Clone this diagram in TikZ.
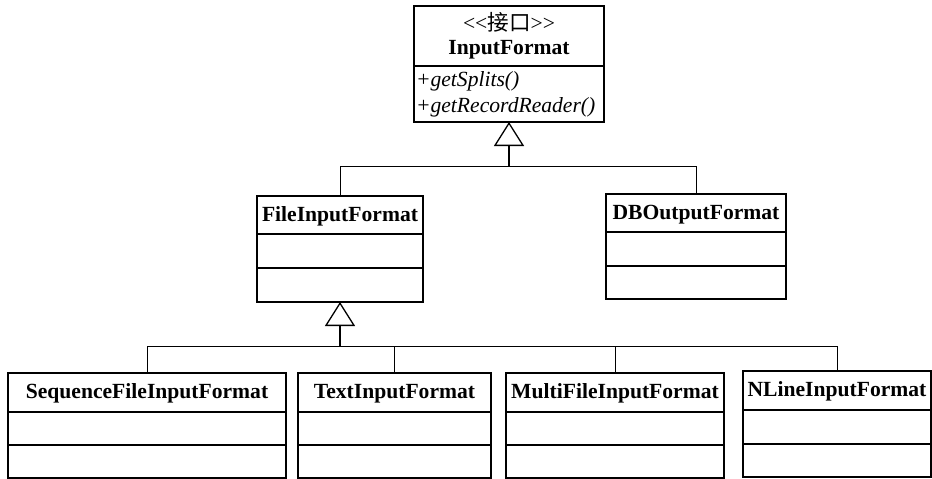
\documentclass[tikz,border=0pt]{standalone}
\usepackage{fontspec}
\setmainfont{Liberation Serif}
\newfontfamily\cjk{Noto Sans CJK SC}
\usepackage{tikz}
\usetikzlibrary{positioning}
\usetikzlibrary{shapes,arrows.meta}

\newcommand{\umlfont}{\fontsize{21.6pt}{24pt}\selectfont}

\tikzset{
  classname/.style={draw, line width=1.2pt, inner sep=0pt, outer sep=0pt,
    anchor=north west, minimum height=39pt, font=\umlfont\bfseries,
    text height=16pt, text depth=4pt},
  classpart/.style={draw, line width=1.2pt, inner sep=0pt, outer sep=0pt,
    minimum height=33pt},
  inherit/.style={line width=1.3pt, -{Triangle[open, width=30pt, length=24pt]}},
  link/.style={line width=0.9pt}
}

\begin{document}
\begin{tikzpicture}[x=1pt, y=-1pt]
  \useasboundingbox (0,0) rectangle (932,479);

  % interface
  \node[draw, line width=1.2pt, inner sep=0pt, outer sep=0pt, anchor=north west,
    minimum width=190pt, minimum height=60pt, align=center, font=\umlfont]
    (if) at (414,6) {<\kern0pt<{\cjk 接口}>\kern0pt>\\\textbf{InputFormat}};
  \node[classpart, below=0pt of if, minimum width=190pt, minimum height=56pt,
    text width=186pt, inner xsep=2pt, align=left,
    font=\fontsize{21.6pt}{26pt}\selectfont\itshape]
    (ifops) {+getSplits()\\+getRecordReader()};

  % second level
  \node[classname, minimum width=166pt, minimum height=38pt] (fif) at (257,196) {FileInputFormat};
  \node[classpart, below=0pt of fif, minimum width=166pt, minimum height=34pt] (fifattr) {};
  \node[classpart, below=0pt of fifattr, minimum width=166pt, minimum height=34pt] (fifops) {};

  \node[classname, minimum width=180pt, minimum height=38pt] (dbo) at (606,194) {DBOutputFormat};
  \node[classpart, below=0pt of dbo, minimum width=180pt, minimum height=34pt] (dboattr) {};
  \node[classpart, below=0pt of dboattr, minimum width=180pt, minimum height=33pt] (dboops) {};

  % third level
  \node[classname, minimum width=278pt] (seq) at (8,373) {SequenceFileInputFormat};
  \node[classpart, below=0pt of seq, minimum width=278pt] (seqattr) {};
  \node[classpart, below=0pt of seqattr, minimum width=278pt] (seqops) {};

  \node[classname, minimum width=193pt] (txt) at (298,373) {TextInputFormat};
  \node[classpart, below=0pt of txt, minimum width=193pt] (txtattr) {};
  \node[classpart, below=0pt of txtattr, minimum width=193pt] (txtops) {};

  \node[classname, minimum width=218pt] (mfi) at (506,373) {MultiFileInputFormat};
  \node[classpart, below=0pt of mfi, minimum width=218pt] (mfiattr) {};
  \node[classpart, below=0pt of mfiattr, minimum width=218pt] (mfiops) {};

  \node[classname, minimum width=188pt] (nli) at (743,371) {NLineInputFormat};
  \node[classpart, below=0pt of nli, minimum width=188pt, minimum height=34pt] (nliattr) {};
  \node[classpart, below=0pt of nliattr, minimum width=188pt] (nliops) {};

  % generalizations
  \coordinate[below=44pt of ifops.south] (j1);
  \draw[inherit] (j1) -- (ifops.south);
  \draw[link] (fif.north) |- (j1);
  \draw[link] (dbo.north) |- (j1);

  \coordinate[below=44pt of fifops.south] (j2);
  \draw[inherit] (j2) -- (fifops.south);
  \draw[link] (seq.north) |- (j2);
  \draw[link] (txt.north) |- (j2);
  \draw[link] (mfi.north) |- (j2);
  \draw[link] (nli.north) |- (j2);
\end{tikzpicture}
\end{document}
